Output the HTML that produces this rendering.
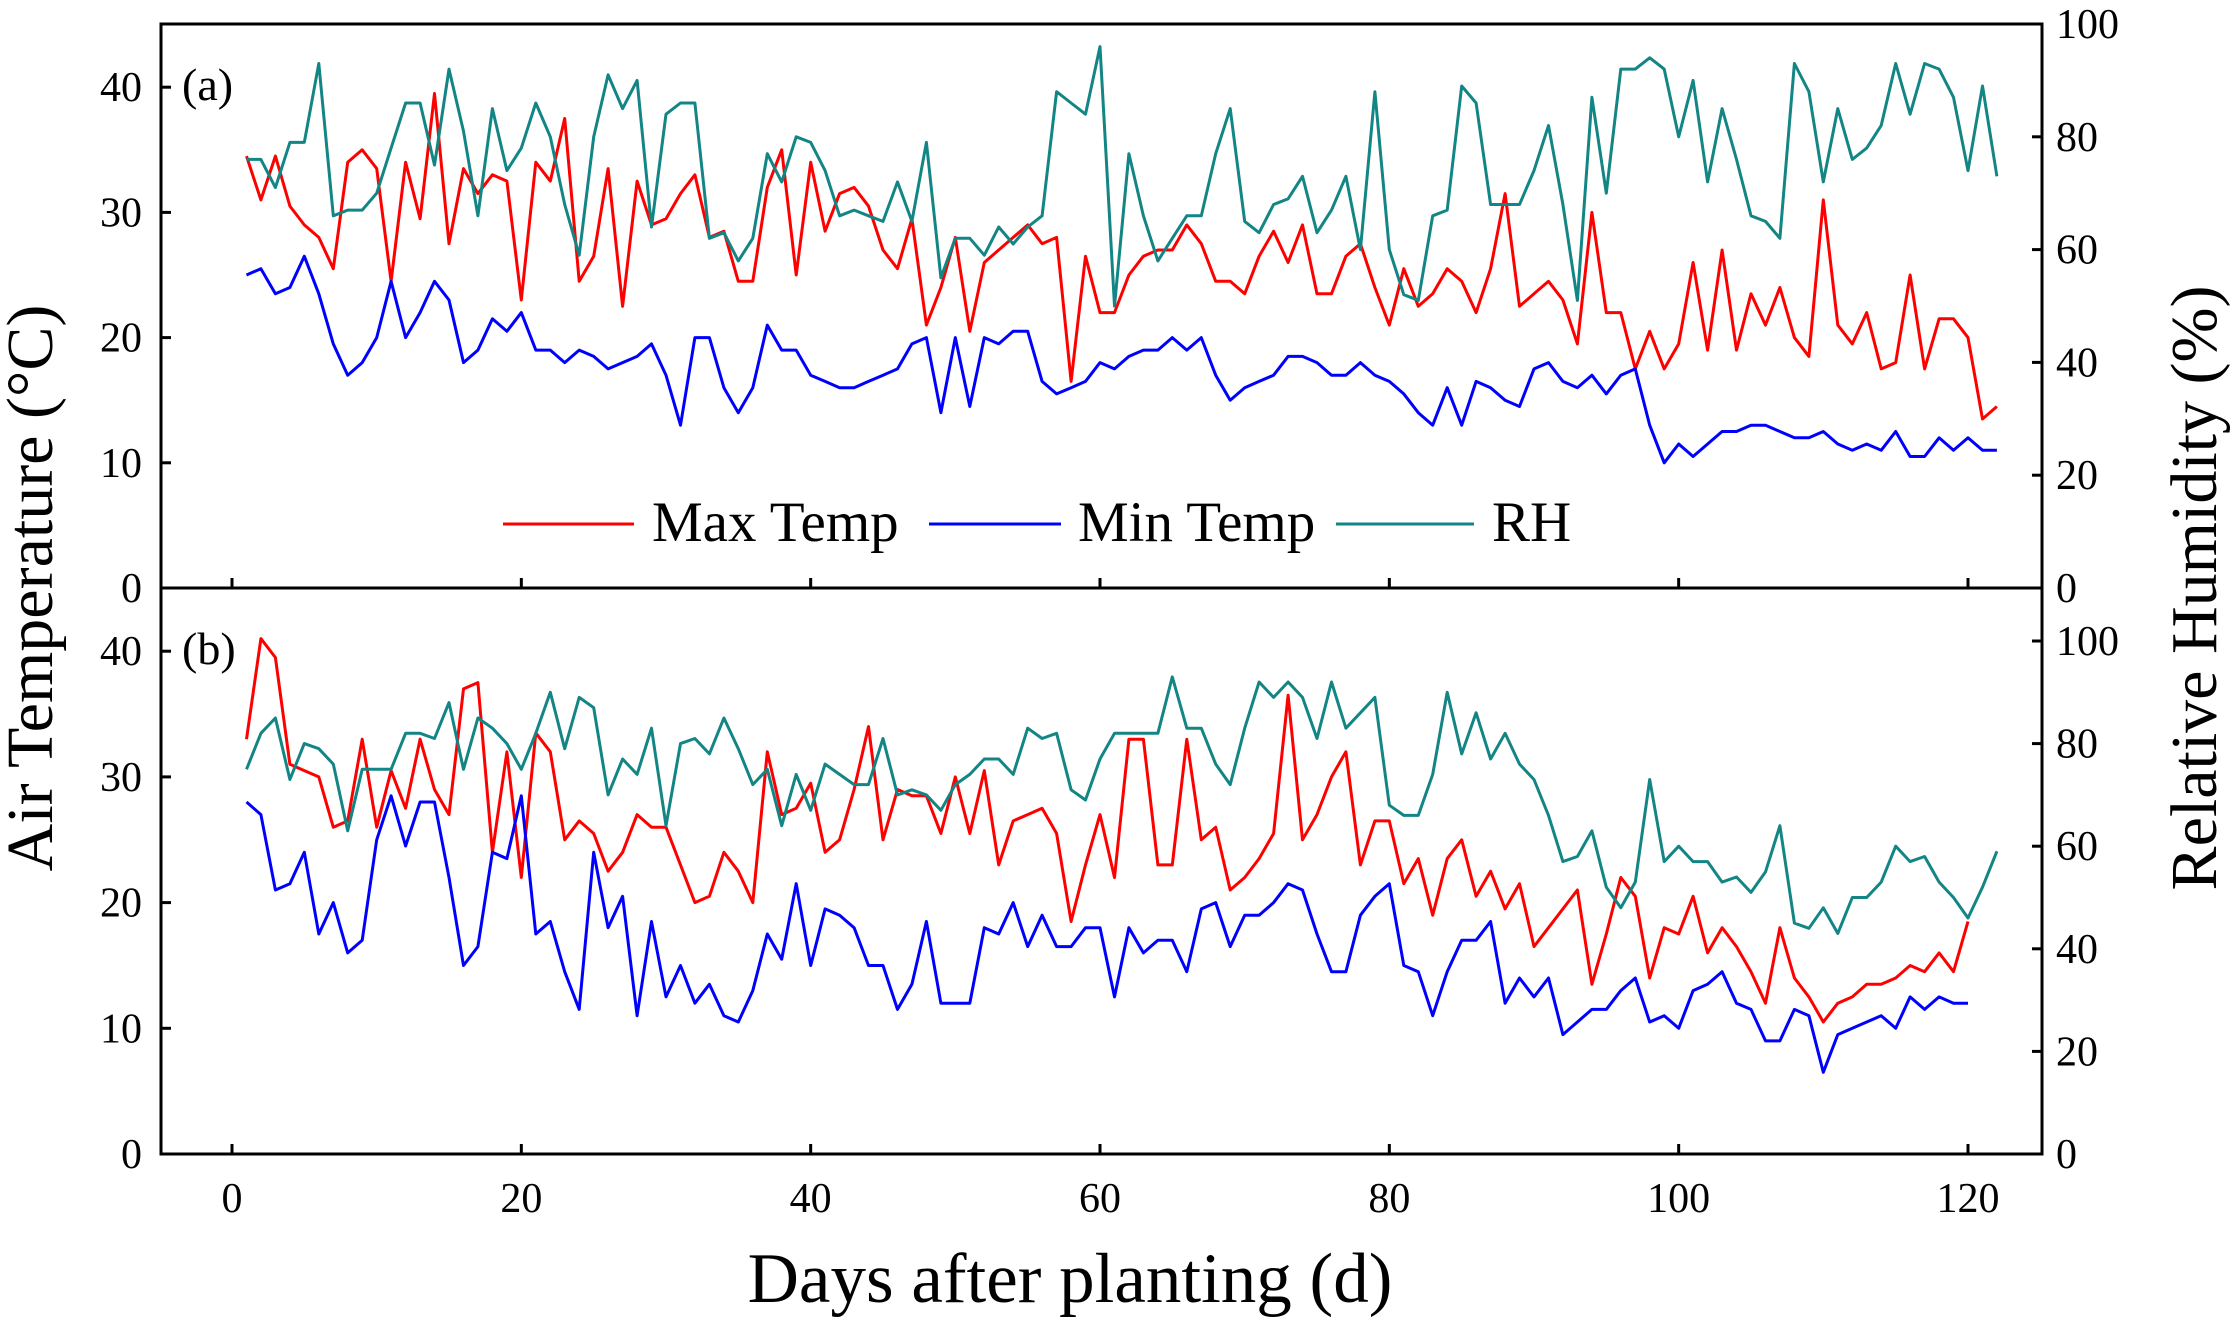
<!DOCTYPE html>
<html><head><meta charset="utf-8"><style>
html,body{margin:0;padding:0;background:#fff}
svg{display:block;font-family:"Liberation Serif",serif}
</style></head><body>
<svg id="c" width="2234" height="1325" viewBox="0 0 2234 1325"></svg>
<script>
const days = Array.from({length:122},(_,i)=>i+1);
const maxA=[34.5,31,34.5,30.5,29,28,25.5,34,35,33.5,24.5,34,29.5,39.5,27.5,33.5,31.5,33,32.5,23,34,32.5,37.5,24.5,26.5,33.5,22.5,32.5,29,29.5,31.5,33,28,28.5,24.5,24.5,32,35,25,34,28.5,31.5,32,30.5,27,25.5,29.5,21,24,28,20.5,26,27,28,29,27.5,28,16.5,26.5,22,22,25,26.5,27,27,29,27.5,24.5,24.5,23.5,26.5,28.5,26,29,23.5,23.5,26.5,27.5,24,21,25.5,22.5,23.5,25.5,24.5,22,25.5,31.5,22.5,23.5,24.5,23,19.5,30,22,22,17.5,20.5,17.5,19.5,26,19,27,19,23.5,21,24,20,18.5,31,21,19.5,22,17.5,18,25,17.5,21.5,21.5,20,13.5,14.5];
const minA=[25,25.5,23.5,24,26.5,23.5,19.5,17,18,20,24.5,20,22,24.5,23,18,19,21.5,20.5,22,19,19,18,19,18.5,17.5,18,18.5,19.5,17,13,20,20,16,14,16,21,19,19,17,16.5,16,16,16.5,17,17.5,19.5,20,14,20,14.5,20,19.5,20.5,20.5,16.5,15.5,16,16.5,18,17.5,18.5,19,19,20,19,20,17,15,16,16.5,17,18.5,18.5,18,17,17,18,17,16.5,15.5,14,13,16,13,16.5,16,15,14.5,17.5,18,16.5,16,17,15.5,17,17.5,13,10,11.5,10.5,11.5,12.5,12.5,13,13,12.5,12,12,12.5,11.5,11,11.5,11,12.5,10.5,10.5,12,11,12,11,11,11];
const rhA=[76,76,71,79,79,93,66,67,67,70,78,86,86,75,92,81,66,85,74,78,86,80,68,59,80,91,85,90,64,84,86,86,62,63,58,62,77,72,80,79,74,66,67,66,65,72,65,79,55,62,62,59,64,61,64,66,88,86,84,96,50,77,66,58,62,66,66,77,85,65,63,68,69,73,63,67,73,60,88,60,52,51,66,67,89,86,68,68,68,74,82,68,51,87,70,92,92,94,92,80,90,72,85,76,66,65,62,93,88,72,85,76,78,82,93,84,93,92,87,74,89,73,74];
const maxB=[33,41,39.5,31,30.5,30,26,26.5,33,26,30.5,27.5,33,29,27,37,37.5,24,32,22,33.5,32,25,26.5,25.5,22.5,24,27,26,26,23,20,20.5,24,22.5,20,32,27,27.5,29.5,24,25,29,34,25,29,28.5,28.5,25.5,30,25.5,30.5,23,26.5,27,27.5,25.5,18.5,23,27,22,33,33,23,23,33,25,26,21,22,23.5,25.5,36.5,25,27,30,32,23,26.5,26.5,21.5,23.5,19,23.5,25,20.5,22.5,19.5,21.5,16.5,18,19.5,21,13.5,17.5,22,20.5,14,18,17.5,20.5,16,18,16.5,14.5,12,18,14,12.5,10.5,12,12.5,13.5,13.5,14,15,14.5,16,14.5,18.5];
const minB=[28,27,21,21.5,24,17.5,20,16,17,25,28.5,24.5,28,28,22,15,16.5,24,23.5,28.5,17.5,18.5,14.5,11.5,24,18,20.5,11,18.5,12.5,15,12,13.5,11,10.5,13,17.5,15.5,21.5,15,19.5,19,18,15,15,11.5,13.5,18.5,12,12,12,18,17.5,20,16.5,19,16.5,16.5,18,18,12.5,18,16,17,17,14.5,19.5,20,16.5,19,19,20,21.5,21,17.5,14.5,14.5,19,20.5,21.5,15,14.5,11,14.5,17,17,18.5,12,14,12.5,14,9.5,10.5,11.5,11.5,13,14,10.5,11,10,13,13.5,14.5,12,11.5,9,9,11.5,11,6.5,9.5,10,10.5,11,10,12.5,11.5,12.5,12,12];
const rhB=[75,82,85,73,80,79,76,63,75,75,75,82,82,81,88,75,85,83,80,75,82,90,79,89,87,70,77,74,83,64,80,81,78,85,79,72,75,64,74,67,76,74,72,72,81,70,71,70,67,72,74,77,77,74,83,81,82,71,69,77,82,82,82,82,93,83,83,76,72,83,92,89,92,89,81,92,83,86,89,68,66,66,74,90,78,86,77,82,76,73,66,57,58,63,52,48,53,73,57,60,57,57,53,54,51,55,64,45,44,48,43,50,50,53,60,57,58,53,50,46,52,59];
const xTicks=[0,20,40,60,80,100,120];
const tTicks=[0,10,20,30,40];
const rhTicks=[0,20,40,60,80,100];

const svg=document.getElementById('c');const NS='http://www.w3.org/2000/svg';
function mk(t,a,txt){const e=document.createElementNS(NS,t);for(const k in a)e.setAttribute(k,a[k]);if(txt!==undefined)e.textContent=txt;svg.appendChild(e);return e;}
const L=161,R=2042,T=24,M=588,B=1154;
const X=d=>232+(d)*(1968-232)/120;
const panels=[
 {name:'a',top:T,bot:M,tY:v=>M-v*12.52,rY:v=>M-v*5.64,mx:maxA,mn:minA,rh:rhA},
 {name:'b',top:M,bot:B,tY:v=>B-v*12.57,rY:v=>B-v*5.13,mx:maxB,mn:minB,rh:rhB}];
panels.forEach(p=>{
 [[p.mx,'#ff0000','max-temp-line'],[p.mn,'#0000ff','min-temp-line'],[p.rh,'#138585','rh-line']].forEach(([arr,col,nm],i)=>{
  const f=i==2?p.rY:p.tY;
  const pl=mk('polyline',{points:arr.map((v,j)=>X(days[j]).toFixed(1)+','+f(v).toFixed(1)).join(' '),fill:'none',stroke:col,'stroke-width':3,'stroke-linejoin':'round'});
  
  
 });
 tTicks.forEach(v=>{const y=p.tY(v);
  mk('line',{x1:L,x2:L+10,y1:y,y2:y,stroke:'#000','stroke-width':3});
  const t=mk('text',{x:142,y:y+14,'text-anchor':'end','font-size':42},String(v));
  
  });
 rhTicks.forEach(v=>{const y=p.rY(v);
  mk('line',{x1:R-10,x2:R,y1:y,y2:y,stroke:'#000','stroke-width':3});
  const t=mk('text',{x:2056,y:y+14,'font-size':42},String(v));
  
  });
 xTicks.forEach(v=>{mk('line',{x1:X(v),x2:X(v),y1:p.bot,y2:p.bot-10,stroke:'#000','stroke-width':3});});
 const pl=mk('text',{x:182,y:p.name==='a'?100:664,'font-size':46},'('+p.name+')');
 
 
});
xTicks.forEach(v=>{const t=mk('text',{x:X(v),y:1212,'text-anchor':'middle','font-size':42},String(v));
 
 });
const fr=mk('rect',{x:L,y:T,width:R-L,height:B-T,fill:'none',stroke:'#000','stroke-width':3});

mk('line',{x1:L,x2:R,y1:M,y2:M,stroke:'#000','stroke-width':3});
[[503,634,652,'#ff0000','Max Temp'],[929,1061,1078,'#0000ff','Min Temp'],[1336,1474,1492,'#138585','RH']].forEach(([a,b,tx,c,s])=>{
 const ln=mk('line',{x1:a,x2:b,y1:524,y2:524,stroke:c,'stroke-width':3});
 
 const t=mk('text',{x:tx,y:541,'font-size':57},s);
 });
const xt=mk('text',{x:1070,y:1302,'text-anchor':'middle','font-size':71},'Days after planting (d)');

const yl=mk('text',{x:0,y:0,'text-anchor':'middle','font-size':66,transform:'translate(52,588) rotate(-90)'},'Air Temperature (°C)');

const yr=mk('text',{x:0,y:0,'text-anchor':'middle','font-size':66,transform:'translate(2216,588) rotate(-90)'},'Relative Humidity (%)');

</script>
</body></html>
